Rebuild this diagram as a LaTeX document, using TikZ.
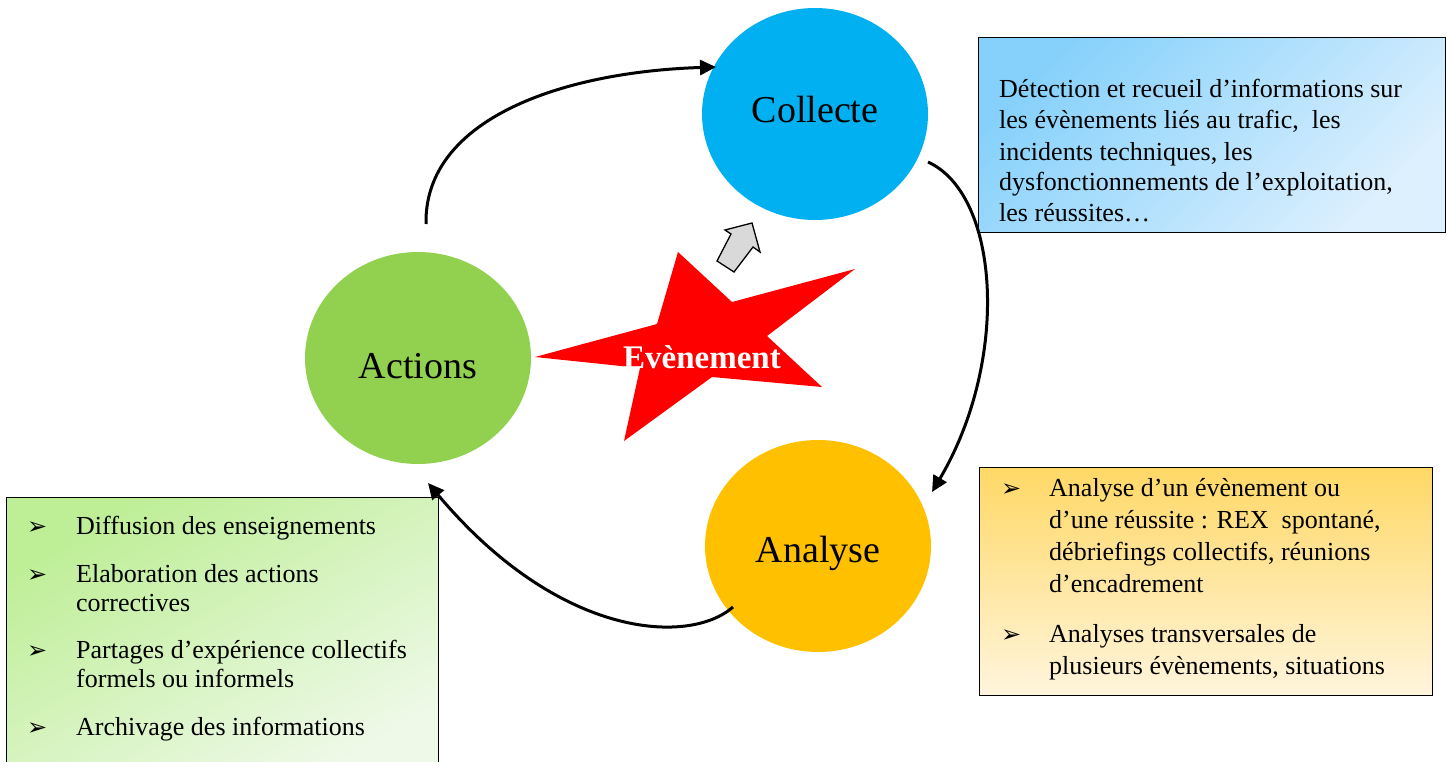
\documentclass[tikz,border=0pt]{standalone}
\usepackage{fontspec}
\setmainfont{Liberation Serif}
\newfontfamily\dejavu{DejaVu Sans}
\usetikzlibrary{arrows.meta,shapes.geometric}
\definecolor{cblue}{HTML}{00B0F0}
\definecolor{cgreen}{HTML}{92D050}
\definecolor{corange}{HTML}{FFC000}
\definecolor{cred}{HTML}{FF0000}
\definecolor{bluedark}{HTML}{86D1FB}
\definecolor{bluelight}{HTML}{DDF0FE}
\definecolor{orangedark}{HTML}{FFD866}
\definecolor{orangelight}{HTML}{FFF5DD}
\definecolor{greendark}{HTML}{BEEE96}
\definecolor{greenlight}{HTML}{EEF9E8}
\definecolor{arrowgray}{HTML}{D9D9D9}
\begin{document}
\begin{tikzpicture}[x=1pt,y=-1pt,
  phase/.style={ellipse, minimum width=226pt, minimum height=212pt, inner sep=0pt,
    font=\fontsize{38}{40}\selectfont},
  infobox/.style={draw=black, line width=1.2pt, inner sep=0pt, anchor=north west},
  boxtext/.style={anchor=base west, align=left, inner sep=0pt,
    font=\fontsize{26}{31}\selectfont},
  bullet/.style={anchor=base west, inner sep=0pt, font=\dejavu\bfseries\fontsize{24}{26}\selectfont},
  flow/.style={line width=3pt, -{Triangle[length=16pt,width=15pt]}}
]
\useasboundingbox (0,0) rectangle (1450,762);

% phases
\node[phase, fill=cblue] (coll) at (815,114) {\raisebox{-9pt}[0pt][0pt]{Collecte}};
\node[phase, fill=cgreen] (act) at (418,358) {\raisebox{-20pt}[0pt][0pt]{Actions}};
\node[phase, fill=corange] (ana) at (818,546) {\raisebox{-16pt}[0pt][0pt]{Analyse}};

% star
\fill[cred] (678,252) -- (732,302) -- (855,269) -- (767,336) -- (822,387) -- (712,377)
  -- (624,441) -- (640,368) -- (535,357) -- (657,324) -- cycle;
\node[text=white, inner sep=0pt, font=\bfseries\fontsize{33}{35}\selectfont] (evt) at (702,357) {Evènement};

% gray block arrow
\filldraw[fill=arrowgray, draw=black, line width=1.3pt, line join=miter]
  (725,230) -- (752,223) -- (760,252) -- (753,247) -- (734,272) -- (717,261) -- (731,234) -- cycle;

% info boxes
\node[infobox, minimum width=467pt, minimum height=195pt,
  top color=bluedark, bottom color=bluelight, shading angle=45] (collbox) at (978,37) {};
\node[infobox, minimum width=453pt, minimum height=228pt,
  top color=orangedark, bottom color=orangelight] (anabox) at (979,467) {};
\node[infobox, minimum width=432pt, minimum height=280pt,
  top color=greendark, bottom color=greenlight, shading angle=30] (actbox) at (6,497) {};

% blue box text (base = last line)
\node[boxtext] (ct) at (999,222) {Détection et recueil d’informations sur\\
les évènements liés au trafic,\ \ les\\
incidents techniques, les\\
dysfonctionnements de l’exploitation,\\
les réussites…};

% orange box text
\node[bullet] (ob1) at (1001,496) {➢};
\node[boxtext, font=\fontsize{26}{32}\selectfont] (ot1) at (1049,592) {Analyse d’un évènement ou\\
d’une réussite : REX\ \ spontané,\\
débriefings collectifs, réunions\\
d’encadrement};
\node[bullet] (ob2) at (1001,642) {➢};
\node[boxtext, font=\fontsize{26}{32}\selectfont] (ot2) at (1049,674) {Analyses transversales de\\
plusieurs évènements, situations};

% green box text
\node[bullet] (gb1) at (27,534) {➢};
\node[boxtext] (gt1) at (76,534) {Diffusion des enseignements};
\node[bullet] (gb2) at (27,582) {➢};
\node[boxtext, font=\fontsize{26}{29}\selectfont] (gt2) at (76,611) {Elaboration des actions\\correctives};
\node[bullet] (gb3) at (27,658) {➢};
\node[boxtext, font=\fontsize{26}{29}\selectfont] (gt3) at (76,687) {Partages d’expérience collectifs\\formels ou informels};
\node[bullet] (gb4) at (27,735) {➢};
\node[boxtext] (gt4) at (76,735) {Archivage des informations};

% connectors
\coordinate (s1) at (426,224);
\coordinate (e1) at (716,67);
\coordinate (s2) at (928,162);
\coordinate (e2) at (932,492);
\coordinate (s3) at (733,607);
\coordinate (e3) at (428,483);
\draw[flow] (s1) .. controls (424,120) and (560,72) .. (e1);
\draw[flow] (s2) .. controls (1000,195) and (1010,360) .. (e2);
\draw[flow] (s3) .. controls (690,645) and (560,640) .. (e3);
\end{tikzpicture}
\end{document}
